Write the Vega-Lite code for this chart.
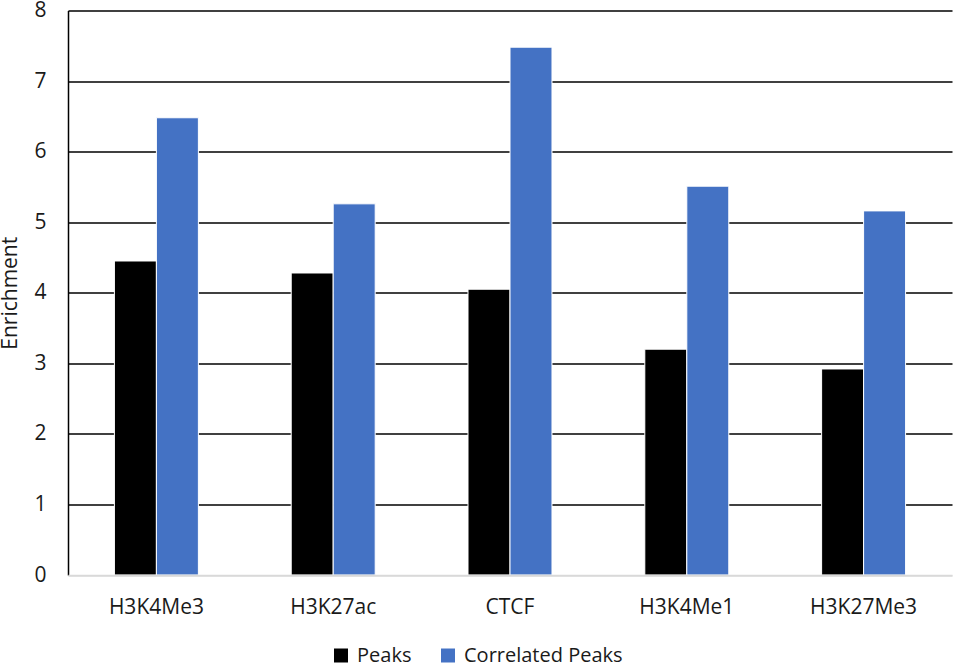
{
  "$schema": "https://vega.github.io/schema/vega-lite/v6.json",
  "autosize": {"type": "none"},
  "padding": {"left": 68, "top": 10.5, "right": 2, "bottom": 93},
  "width": 884,
  "height": 564.5,
  "data": {
    "values": [
      {"mark": "H3K4Me3", "series": "Peaks", "value": 4.45},
      {"mark": "H3K4Me3", "series": "Correlated Peaks", "value": 6.48},
      {"mark": "H3K27ac", "series": "Peaks", "value": 4.28},
      {"mark": "H3K27ac", "series": "Correlated Peaks", "value": 5.26},
      {"mark": "CTCF", "series": "Peaks", "value": 4.05},
      {"mark": "CTCF", "series": "Correlated Peaks", "value": 7.48},
      {"mark": "H3K4Me1", "series": "Peaks", "value": 3.2},
      {"mark": "H3K4Me1", "series": "Correlated Peaks", "value": 5.51},
      {"mark": "H3K27Me3", "series": "Peaks", "value": 2.92},
      {"mark": "H3K27Me3", "series": "Correlated Peaks", "value": 5.16}
    ]
  },
  "mark": {"type": "bar", "stroke": "white", "strokeWidth": 1},
  "encoding": {
    "x": {
      "field": "mark",
      "type": "nominal",
      "sort": null,
      "title": null,
      "scale": {"paddingInner": 0.525, "paddingOuter": 0.2625},
      "axis": {
        "labelAngle": 0,
        "ticks": false,
        "labelPadding": 21,
        "domainColor": "#d9d9d9",
        "domainWidth": 1.5,
        "zindex": 1
      }
    },
    "xOffset": {
      "field": "series",
      "sort": ["Peaks", "Correlated Peaks"],
      "scale": {"paddingInner": 0, "paddingOuter": 0}
    },
    "y": {
      "field": "value",
      "type": "quantitative",
      "title": "Enrichment",
      "scale": {"domain": [0, 8], "nice": false},
      "axis": {
        "values": [0, 1, 2, 3, 4, 5, 6, 7, 8],
        "ticks": false,
        "labelPadding": 22,
        "domainColor": "black",
        "domainWidth": 1.5,
        "gridWidth": 1.5,
        "gridColor": {
          "condition": {"test": "datum.value === 0", "value": "#d9d9d9"},
          "value": "black"
        },
        "titlePadding": 13
      }
    },
    "color": {
      "field": "series",
      "type": "nominal",
      "scale": {
        "domain": ["Peaks", "Correlated Peaks"],
        "range": ["#000000", "#4472C4"]
      },
      "legend": {
        "title": null,
        "orient": "none",
        "direction": "horizontal",
        "legendX": 263,
        "legendY": 635,
        "symbolType": "square",
        "symbolSize": 196,
        "symbolStrokeWidth": 0,
        "labelOffset": 6,
        "columnPadding": 26,
        "labelFontSize": 20,
        "labelLimit": 300
      }
    }
  },
  "config": {
    "font": "Open Sans",
    "view": {"stroke": null},
    "axis": {
      "labelFont": "Open Sans",
      "labelFontSize": 21,
      "labelColor": "#1a1a1a",
      "titleFont": "Open Sans",
      "titleFontSize": 21,
      "titleFontWeight": "normal",
      "titleColor": "#1a1a1a"
    },
    "legend": {"labelFont": "Open Sans", "labelColor": "#1a1a1a"}
  }
}
